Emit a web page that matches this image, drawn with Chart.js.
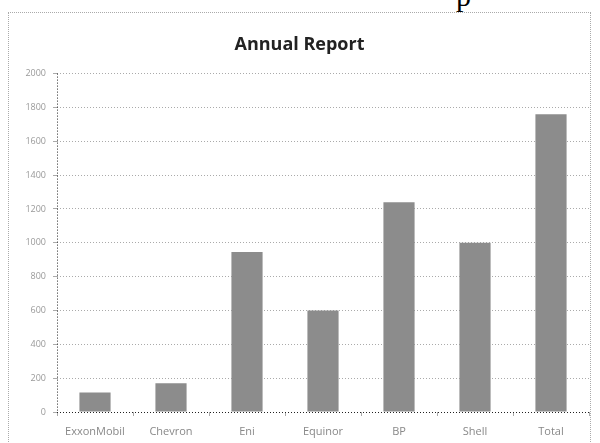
<!DOCTYPE html>
<html>
<head>
<meta charset="utf-8">
<script src="https://cdn.jsdelivr.net/npm/chart.js@4/dist/chart.umd.min.js"></script>
<style>
    html, body { margin: 0; padding: 0; background: #fff; }
    #wrap { position: relative; width: 600px; height: 443px; overflow: hidden; }
    #frame {
        position: absolute; left: 8px; top: 12px; width: 583px; height: 440px;
        border: 1px dotted #aaa; box-sizing: border-box;
    }
    #cut {
        position: absolute; left: 456px; top: -21px;
        font: 30px "Liberation Serif", serif; color: #000;
    }
    canvas { position: absolute; left: 0; top: 0; }
</style>
</head>
<body>
<div id="wrap">
    <span id="cut">p</span>
    <div id="frame"></div>
    <canvas id="reportChart" width="600" height="443"></canvas>
</div>
<script>
// Datos del gráfico
const companies = ['ExxonMobil', 'Chevron', 'Eni', 'Equinor', 'BP', 'Shell', 'Total'];
const values = [115, 170, 945, 600, 1240, 1000, 1760];
const yTicks = [0, 200, 400, 600, 800, 1000, 1200, 1400, 1600, 1800, 2000];

// Ejes punteados (izquierda y abajo)
const dottedAxes = {
    id: 'dottedAxes',
    afterDatasetsDraw(chart) {
        const { ctx, chartArea: a } = chart;
        ctx.save();
        ctx.strokeStyle = '#222';
        ctx.lineWidth = 1;
        ctx.setLineDash([1, 2]);
        ctx.beginPath();
        ctx.moveTo(a.left + 0.5, a.top);
        ctx.lineTo(a.left + 0.5, a.bottom);
        ctx.moveTo(a.left, a.bottom + 0.5);
        ctx.lineTo(a.right, a.bottom + 0.5);
        ctx.stroke();
        ctx.restore();
    }
};

const ctx = document.getElementById('reportChart').getContext('2d');
const reportChart = new Chart(ctx, {
    type: 'bar',
    data: {
        labels: companies,
        datasets: [{
            label: 'Annual Report',
            data: values,
            backgroundColor: '#8c8c8c',
            borderWidth: 0,
            barPercentage: 0.41,
            categoryPercentage: 1
        }]
    },
    options: {
        responsive: false,
        animation: false,
        layout: {
            padding: { left: 10, right: 11, top: 0, bottom: 0 }
        },
        scales: {
            x: {
                grid: {
                    display: true,
                    drawOnChartArea: false,
                    tickLength: 4,
                    color: '#aaa'
                },
                border: { display: false },
                ticks: {
                    color: '#888',
                    padding: 9,
                    font: { family: 'Open Sans', size: 11 }
                },
                afterFit: scale => { scale.height = 31; }
            },
            y: {
                min: 0,
                max: yTicks[yTicks.length - 1],
                afterBuildTicks: scale => {
                    scale.ticks = yTicks.map(v => ({ value: v }));
                },
                grid: {
                    color: '#aaa',
                    tickLength: 4
                },
                border: { display: false, dash: [1, 2] },
                ticks: {
                    color: '#999',
                    padding: 7,
                    font: { family: 'Open Sans', size: 9 },
                    callback: value => String(value)
                },
                afterFit: scale => { scale.width = 47; }
            }
        },
        plugins: {
            legend: { display: false },
            tooltip: { enabled: false },
            title: {
                display: true,
                text: 'Annual Report',
                color: '#222',
                font: { family: 'Open Sans', size: 18, weight: 'bold' },
                padding: { top: 34, bottom: 18 }
            }
        }
    },
    plugins: [dottedAxes]
});
</script>
</body>
</html>
